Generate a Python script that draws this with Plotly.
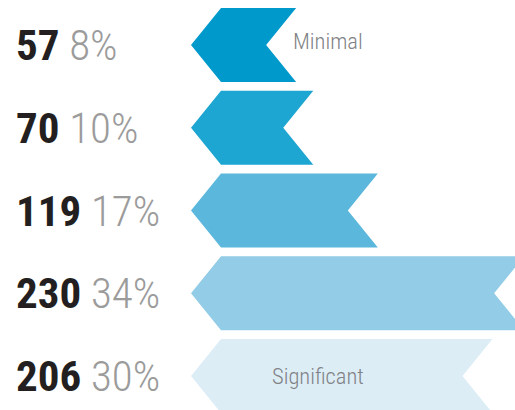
import plotly.graph_objects as go

# ---- data ----
counts = [57, 70, 119, 230, 206]
percents = ["8%", "10%", "17%", "34%", "30%"]
colors = ["#0099CC", "#1DA6D2", "#5BB7DC", "#93CCE6", "#DDEDF6"]
end_labels = ["Minimal", "", "", "", "Significant"]

W, H = 515, 410
PX_PER_UNIT = 1.318          # horizontal scale (px per count)
X0_PX = 221                  # pixel of count = 0
ROW0_PX, ROW_STEP_PX = 45, 82.75
HALF_PX = 37
TIP_PX = 30

x_range = [-X0_PX / PX_PER_UNIT, (W - X0_PX) / PX_PER_UNIT]
y_range = [(H - ROW0_PX) / ROW_STEP_PX, -ROW0_PX / ROW_STEP_PX]
h = HALF_PX / ROW_STEP_PX
d = TIP_PX / PX_PER_UNIT

FONT = "Roboto Condensed, Open Sans, sans-serif"

fig = go.Figure()
for i, (v, c) in enumerate(zip(counts, colors)):
    xs = [0, v, v - d, v, 0, -d, 0]
    ys = [i - h, i - h, i, i + h, i + h, i, i - h]
    fig.add_trace(go.Scatter(x=xs, y=ys, fill="toself", fillcolor=c,
                             mode="lines", line=dict(width=0, color=c),
                             hoverinfo="skip", showlegend=False))

annotations = []
for i, (v, p) in enumerate(zip(counts, percents)):
    annotations.append(dict(
        xref="paper", yref="y", x=14 / W, y=i, xanchor="left", yanchor="middle",
        text=f"<b>{v}</b> <span style='color:#9B9B9B'>{p}</span>",
        showarrow=False, font=dict(family=FONT, size=43, color="#231F20", weight=300)))

label_px = [291, None, None, None, 270]
for i, (lab, lx) in enumerate(zip(end_labels, label_px)):
    if lab:
        annotations.append(dict(
            xref="paper", yref="y", x=lx / W, y=i - (0.045 if i == 0 else 0),
            xanchor="left", yanchor="middle", text=lab, showarrow=False,
            font=dict(family=FONT, size=22.5, color="#808285", weight=300)))

fig.update_layout(
    width=W, height=H, margin=dict(l=0, r=0, t=0, b=0),
    paper_bgcolor="white", plot_bgcolor="white",
    xaxis=dict(range=x_range, visible=False, fixedrange=True),
    yaxis=dict(range=y_range, visible=False, fixedrange=True),
    annotations=annotations, showlegend=False,
)
fig.write_html("out.html", config={"displayModeBar": False},
               post_script="document.body.style.margin='0';")
